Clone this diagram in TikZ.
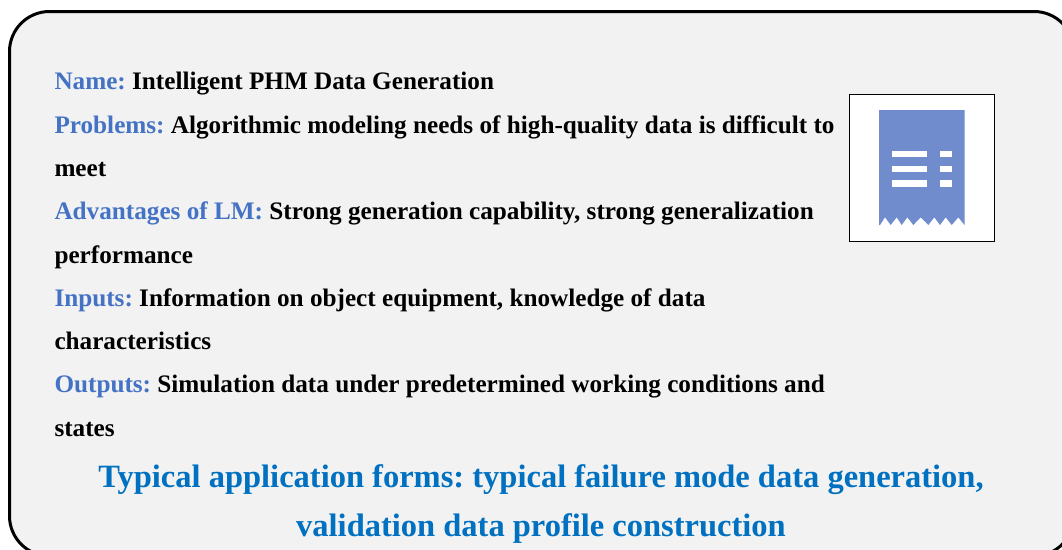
\documentclass[tikz,border=0pt]{standalone}
\usepackage{fontspec}
\setmainfont{Liberation Serif}
\definecolor{lab}{HTML}{4472C4}
\definecolor{ttl}{HTML}{0070C0}
\definecolor{panel}{HTML}{F2F2F2}
\definecolor{ico}{HTML}{708CCC}
\newcommand{\lb}[1]{\textcolor{lab}{#1}}
\tikzset{
  x=1pt,y=-1pt,
  line/.style={anchor=base west,inner sep=0pt,outer sep=0pt,font=\fontsize{25.2}{28}\selectfont\bfseries\frenchspacing,text=black},
  title/.style={anchor=base,inner sep=0pt,outer sep=0pt,font=\fontsize{32.5}{36}\selectfont\bfseries\frenchspacing,text=ttl},
  slot/.style={fill=white,draw=none}
}
\begin{document}
\begin{tikzpicture}
\useasboundingbox (0,0) rectangle (1062,549);
\begin{scope}
\clip (0,0) rectangle (1062,549);
\draw[fill=panel,draw=black,line width=3pt,rounded corners=40pt] (9.5,11.5) rectangle (1074,556);
\end{scope}
\node[line] (l1) at (54.5,89) {\lb{Name:} Intelligent PHM Data Generation};
\node[line] (l2) at (54.5,133) {\lb{Problems:} Algorithmic modeling needs of high-quality data is difficult to};
\node[line] (l3) at (54.5,176) {meet};
\node[line] (l4) at (54.5,219) {\lb{Advantages of LM:} Strong generation capability, strong generalization};
\node[line] (l5) at (54.5,263) {performance};
\node[line] (l6) at (54.5,306) {\lb{Inputs:} Information on object equipment, knowledge of data};
\node[line] (l7) at (54.5,349) {characteristics};
\node[line] (l8) at (54.5,392) {\lb{Outputs:} Simulation data under predetermined working conditions and};
\node[line] (l9) at (54.5,436) {states};
\node[title] (t1) at (541,487.5) {Typical application forms: typical failure mode data generation,};
\node[title] (t2) at (541,536) {validation data profile construction};
% icon
\draw[fill=white,draw=black,line width=1pt] (849,94) rectangle (994.5,241);
\fill[ico] (879,110) -- (964.5,110) -- (964.5,225) -- (958.3,217.3) -- (951.7,225) -- (945.7,217.3) -- (940,225) -- (934.3,217.3) -- (928.3,225) -- (920.7,217.3) -- (913.3,225) -- (907.3,217.3) -- (901.7,225) -- (896.7,217.3) -- (890.7,225) -- (885,217.3) -- (880,225) -- (879,225) -- cycle;
\fill[slot] (891.7,151) rectangle (927,157);
\fill[slot] (891.7,165.7) rectangle (927,171.7);
\fill[slot] (891.7,180.3) rectangle (927,186.7);
\fill[slot] (940.3,151) rectangle (952,157);
\fill[slot] (940.3,165.7) rectangle (952,171.7);
\fill[slot] (940.3,180.3) rectangle (952,186.7);
\end{tikzpicture}
\end{document}
